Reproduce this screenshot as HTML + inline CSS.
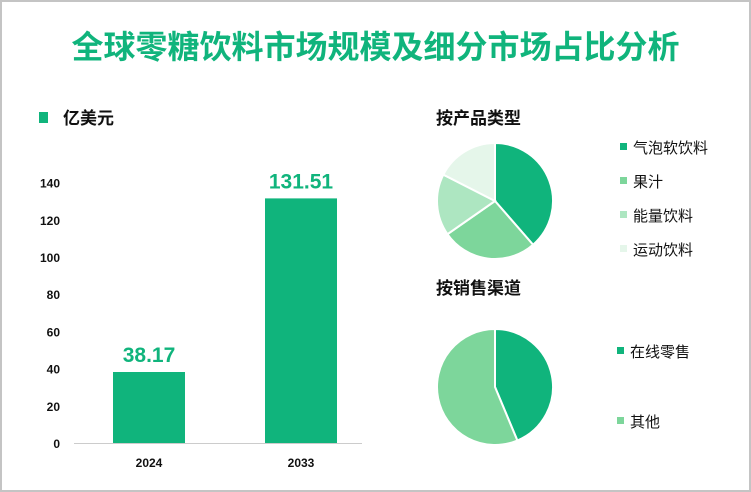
<!DOCTYPE html>
<html><head><meta charset="utf-8"><style>
body{margin:0;background:#fff}
#wrap{position:relative;width:747px;height:488px;border:2px solid #c4c4c4;overflow:hidden;font-family:"Liberation Sans","Noto Sans CJK SC",sans-serif}
.t{position:absolute;white-space:nowrap}
</style></head><body>
<div id="wrap">
<div class="t" style="left:0;width:747px;text-align:center;top:20px;font-size:32px;font-weight:bold;color:#10b47c">全球零糖饮料市场规模及细分市场占比分析</div>
<svg id="svg" width="747" height="488" style="position:absolute;left:0;top:0"></svg>
</div>
<script>
const years=["2024","2033"];
const sizes=[38.17,131.51];
const yTicks=[0,20,40,60,80,100,120,140];
const typeLabels=["气泡软饮料","果汁","能量饮料","运动饮料"];
const typeShares=[38.6,26.7,17.2,17.5];
const chanLabels=["在线零售","其他"];
const chanShares=[43.7,56.3];
const typeColors=["#10b47c","#7dd69b","#ade6c1","#e5f6ea"];
const chanColors=["#10b47c","#7dd69b"];
const NS="http://www.w3.org/2000/svg";
const svg=document.getElementById('svg');
function mk(tag,a,txt){const e=document.createElementNS(NS,tag);for(const k in a)e.setAttribute(k,a[k]);if(txt!==undefined)e.textContent=txt;svg.appendChild(e);return e;}
const y0=441,pxu=1.86;
const yS=v=>y0-v*pxu;
const xC=i=>147+i*152;
let e;
e=mk('rect',{x:37,y:110,width:9,height:11,fill:'#10b47c'});

e=mk('text',{x:61,y:122,'font-size':17,'font-weight':'bold',fill:'#111'},'亿美元');

yTicks.forEach(v=>{e=mk('text',{x:58,y:yS(v)+5,'font-size':12,'font-weight':'bold','text-anchor':'end',fill:'#111'},v);
});
e=mk('line',{x1:72,y1:y0+0.5,x2:360,y2:y0+0.5,stroke:'#ccc','stroke-width':1});

years.forEach((yr,i)=>{
e=mk('rect',{x:xC(i)-36,y:yS(sizes[i]),width:72,height:sizes[i]*pxu,fill:'#10b47c'});

e=mk('text',{x:xC(i),y:yS(sizes[i])-10,'font-size':21,'font-weight':'bold','text-anchor':'middle',fill:'#10b47c'},sizes[i].toFixed(2));

e=mk('text',{x:xC(i),y:465,'font-size':12,'font-weight':'bold','text-anchor':'middle',fill:'#111'},yr);

});
function pie(cx,cy,r,shares,colors,name){
const tot=shares.reduce((a,b)=>a+b,0);let a0=0;
shares.forEach((s,i)=>{const a1=a0+s/tot*2*Math.PI;
const p=a=>[cx+r*Math.sin(a),cy-r*Math.cos(a)];const [x0,y0_]=p(a0),[x1,y1]=p(a1);
e=mk('path',{d:`M${cx},${cy}L${x0},${y0_}A${r},${r} 0 ${a1-a0>Math.PI?1:0} 1 ${x1},${y1}Z`,fill:colors[i],stroke:'#fff','stroke-width':2});
a0=a1;});
}
pie(493,199,58,typeShares,typeColors,'type-pie');
pie(493,385,58,chanShares,chanColors,'channel-pie');
e=mk('text',{x:434,y:122,'font-size':17,'font-weight':'bold',fill:'#111'},'按产品类型');

e=mk('text',{x:434,y:292,'font-size':17,'font-weight':'bold',fill:'#111'},'按销售渠道');

typeLabels.forEach((l,i)=>{const y=145+i*34;
e=mk('rect',{x:618,y:y-4,width:7,height:7,fill:typeColors[i]});

e=mk('text',{x:631,y:y+6,'font-size':15,fill:'#111'},l);
});
chanLabels.forEach((l,i)=>{const y=349+i*70;
e=mk('rect',{x:615,y:y-4,width:7,height:7,fill:chanColors[i]});

e=mk('text',{x:628,y:y+6,'font-size':15,fill:'#111'},l);
});
</script>
</body></html>
